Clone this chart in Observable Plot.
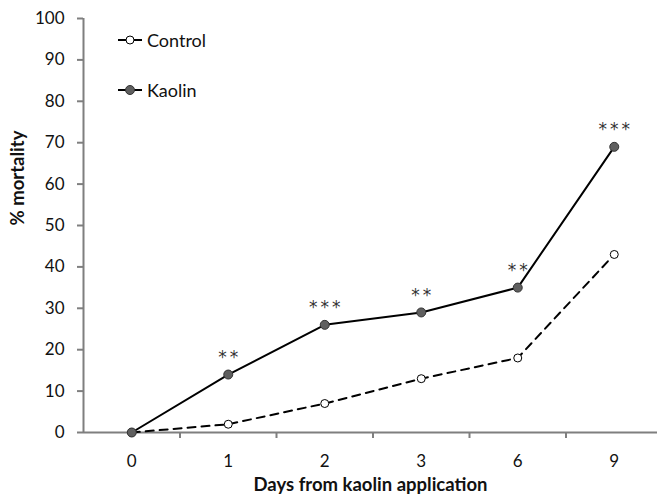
<!DOCTYPE html>
<html>
<head>
<meta charset="utf-8">
<script src="https://cdn.jsdelivr.net/npm/d3@7"></script>
<script src="https://cdn.jsdelivr.net/npm/@observablehq/plot@0.6"></script>
<style>
  html, body { margin: 0; padding: 0; background: #fff; }
  #wrap { position: relative; width: 657px; height: 497px; font-family: Lato, "Open Sans", sans-serif; }
  #legend { position: absolute; left: 117px; top: 28px; font-size: 18px; color: #111; }
  #legend .row { display: flex; align-items: center; height: 24px; }
  #legend .row + .row { margin-top: 26px; }
  #legend svg { margin-right: 4px; }
  #chart g[font-family="DejaVu Sans"] text { letter-spacing: 3px; }
</style>
</head>
<body>
<div id="wrap">
  <div id="chart"></div>
  <div id="legend">
    <div class="row"><svg width="26" height="12"><line x1="1" x2="25" y1="6" y2="6" stroke="#000" stroke-width="2"/><circle cx="13" cy="6" r="4" fill="#fff" stroke="#000" stroke-width="1"/></svg><span>Control</span></div>
    <div class="row"><svg width="26" height="12"><line x1="1" x2="25" y1="6" y2="6" stroke="#000" stroke-width="2"/><circle cx="13" cy="6" r="4.5" fill="#5f5f5f" stroke="#333" stroke-width="1"/></svg><span>Kaolin</span></div>
  </div>
</div>
<script>
const days = ["0", "1", "2", "3", "6", "9"];
const control = [0, 2, 7, 13, 18, 43];
const kaolin = [0, 14, 26, 29, 35, 69];
const significance = ["", "**", "***", "**", "**", "***"];
const yTicks = [0, 10, 20, 30, 40, 50, 60, 70, 80, 90, 100];
const xLabel = "Days from kaolin application";
const yLabel = "% mortality";

const idx = days.map((d, i) => i);
const controlData = idx.map(i => ({i, v: control[i]}));
const kaolinData = idx.map(i => ({i, v: kaolin[i], s: significance[i]}));
const boundaries = idx.slice(0, -1).map(i => i + 0.5);

const axisColor = "#7f7f7f";
const chart = Plot.plot({
  width: 657,
  height: 497,
  marginTop: 18,
  marginBottom: 65,
  marginLeft: 83,
  marginRight: 0,
  style: {fontFamily: "Lato, 'Open Sans', sans-serif", fontSize: "17px", color: "#111", background: "#fff"},
  x: {domain: [-0.5, days.length - 0.5], range: [83, 662]},
  y: {domain: [0, 100]},
  marks: [
    Plot.axisY({ticks: yTicks, tickSize: 6, tickPadding: 13, stroke: axisColor, strokeWidth: 2, label: null, tickFormat: d => String(d), fill: "#111", fontSize: 17}),
    Plot.axisX({ticks: boundaries, tickSize: 6, tickFormat: () => "", stroke: axisColor, strokeWidth: 2, label: null}),
    Plot.axisX({ticks: idx, tickSize: 0, tickPadding: 22, tickFormat: i => days[i], label: null, fill: "#111", fontSize: 17}),
    Plot.ruleX([-0.5], {stroke: axisColor, strokeWidth: 2}),
    Plot.ruleY([0], {stroke: axisColor, strokeWidth: 2}),
    Plot.line(controlData, {x: "i", y: "v", stroke: "#000", strokeWidth: 2, strokeDasharray: "8,6"}),
    Plot.line(kaolinData, {x: "i", y: "v", stroke: "#000", strokeWidth: 2}),
    Plot.dot(controlData, {x: "i", y: "v", r: 4, fill: "#fff", stroke: "#000", strokeWidth: 1}),
    Plot.dot(kaolinData, {x: "i", y: "v", r: 4.5, fill: "#5f5f5f", stroke: "#333", strokeWidth: 1}),
    Plot.text(kaolinData, {x: "i", y: "v", text: "s", dy: -17, dx: 1.5, fontSize: 17, fontFamily: "DejaVu Sans", fill: "#333", lineAnchor: "middle"}),
    Plot.text([xLabel], {frameAnchor: "bottom", dy: 58, fontWeight: "bold", fontSize: 18.5, fill: "#111"}),
    Plot.text([yLabel], {frameAnchor: "left", dx: -65, rotate: -90, fontWeight: "bold", fontSize: 18.5, fill: "#111"})
  ]
});
document.getElementById("chart").appendChild(chart);
</script>
</body>
</html>
